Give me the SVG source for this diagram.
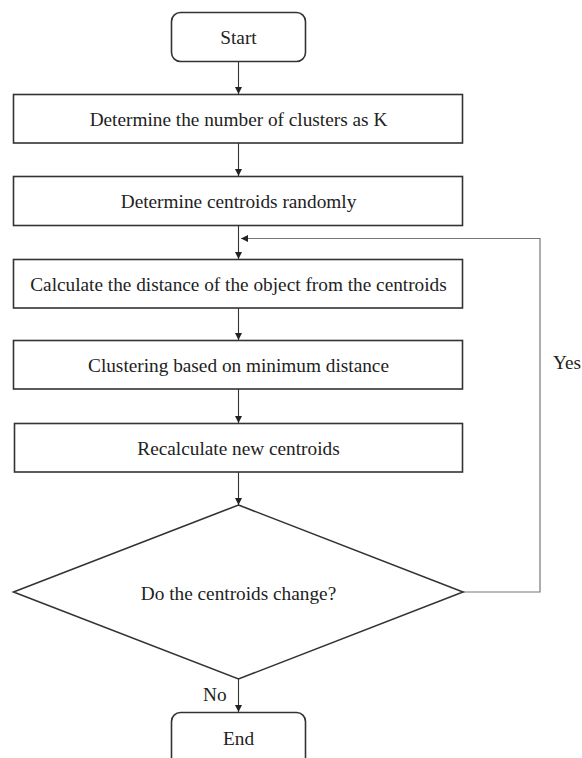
<svg xmlns="http://www.w3.org/2000/svg" width="582" height="758" viewBox="0 0 582 758">
<style>
.box{fill:#fff;stroke:#333;stroke-width:1.6}
.t{font-family:"Liberation Serif","Times New Roman",serif;font-size:19.3px;fill:#222;text-anchor:middle}
.lbl{font-family:"Liberation Serif","Times New Roman",serif;font-size:19.3px;fill:#222}
.c{fill:none;stroke:#333;stroke-width:1.1}
.loop{fill:none;stroke:#777;stroke-width:1.2}
</style>
<defs>
<marker id="ah" viewBox="0 0 10 10" refX="10" refY="5" markerWidth="7" markerHeight="8" markerUnits="userSpaceOnUse" orient="auto">
<path d="M0,0 L10,5 L0,10 Z" fill="#222"/>
</marker>
</defs>
<rect width="582" height="758" fill="#fff"/>
<g id="connectors">
<line class="c" x1="238.5" y1="62" x2="238.5" y2="94" marker-end="url(#ah)"/>
<line class="c" x1="238.5" y1="143" x2="238.5" y2="176" marker-end="url(#ah)"/>
<line class="c" x1="238.5" y1="226" x2="238.5" y2="259" marker-end="url(#ah)"/>
<line class="c" x1="238.5" y1="308" x2="238.5" y2="340" marker-end="url(#ah)"/>
<line class="c" x1="238.5" y1="389" x2="238.5" y2="423" marker-end="url(#ah)"/>
<line class="c" x1="238.5" y1="472" x2="238.5" y2="505" marker-end="url(#ah)"/>
<line class="c" x1="238.5" y1="679" x2="238.5" y2="712" marker-end="url(#ah)"/>
<polyline class="loop" points="463,592 540,592 540,238.5 241,238.5" marker-end="url(#ah)"/>
<text class="lbl" x="553" y="369">Yes</text>
<text class="lbl" x="203" y="701">No</text>
</g>
<g id="start">
<rect class="box" x="171.5" y="12.5" width="134" height="49" rx="9"/>
<text class="t" x="238.5" y="44">Start</text>
</g>
<g id="step1">
<rect class="box" x="13.5" y="94.5" width="449" height="48.5"/>
<text class="t" x="238.5" y="126">Determine the number of clusters as K</text>
</g>
<g id="step2">
<rect class="box" x="13.5" y="176.5" width="449" height="49"/>
<text class="t" x="238.5" y="208">Determine centroids randomly</text>
</g>
<g id="step3">
<rect class="box" x="13.5" y="259.5" width="449" height="48.5"/>
<text class="t" x="238.5" y="291">Calculate the distance of the object from the centroids</text>
</g>
<g id="step4">
<rect class="box" x="13.5" y="340.5" width="449" height="48.5"/>
<text class="t" x="238.5" y="372">Clustering based on minimum distance</text>
</g>
<g id="step5">
<rect class="box" x="14.5" y="423.5" width="448" height="48.5"/>
<text class="t" x="238.5" y="455">Recalculate new centroids</text>
</g>
<g id="decision">
<polygon class="box" points="238.5,505 463,592 238.5,679 13.5,592"/>
<text class="t" x="238.5" y="600">Do the centroids change?</text>
</g>
<g id="end">
<rect class="box" x="171.5" y="712.5" width="134" height="56" rx="9"/>
<text class="t" x="238.5" y="745">End</text>
</g>
</svg>
